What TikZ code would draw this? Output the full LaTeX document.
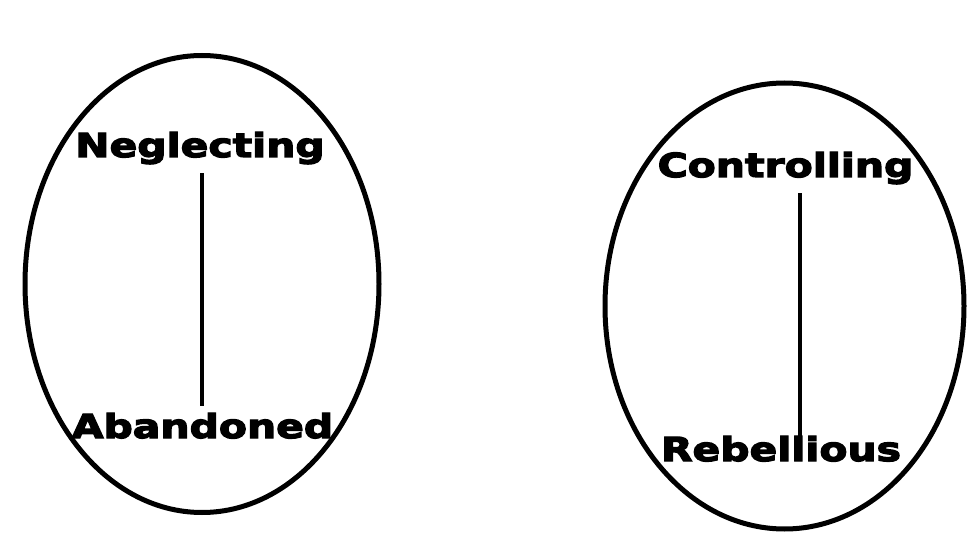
\documentclass[tikz,border=0pt]{standalone}
\usepackage{fontspec}
\newfontfamily\labelfont[FakeStretch=1.24,FakeBold=4]{DejaVu Sans}
\usetikzlibrary{shapes.geometric, positioning}
\tikzset{%
   % outline round each pair of words
   ring/.style={
      ellipse,
      draw,
      line width=5pt,
      inner sep=0pt
   },
   lbl/.style={
      inner sep=0pt,
      anchor=base,
      font=\labelfont\bfseries\fontsize{33}{38}\selectfont
   },
   bar/.style={
      line width=3.5pt
   },
}

\begin{document}
\begin{tikzpicture}[x=1pt, y=-1pt]
    \useasboundingbox (0,0) rectangle (967,556);
    \node[ring, minimum width=354pt, minimum height=457pt] (lring) at (202,284) {};
    \node[ring, minimum width=359pt, minimum height=446pt] (rring) at (784.5,306) {};
    \node[lbl] (neglect) at (200,157) {Neglecting};
    \node[lbl] (abandon) at (202.5,438) {Abandoned};
    \node[lbl] (ctrl) at (785.5,177) {Controlling};
    \node[lbl] (rebel) at (781,461) {Rebellious};
    \coordinate (ltop) at ([shift={(2,9)}]neglect.south);
    \coordinate (rtop) at ([shift={(14.5,9)}]ctrl.south);
    \draw[bar, shorten >=7pt] (ltop) -- (ltop |- abandon.north);
    \draw[bar, shorten >=-13pt] (rtop) -- (rtop |- rebel.north);
\end{tikzpicture}
\end{document}
